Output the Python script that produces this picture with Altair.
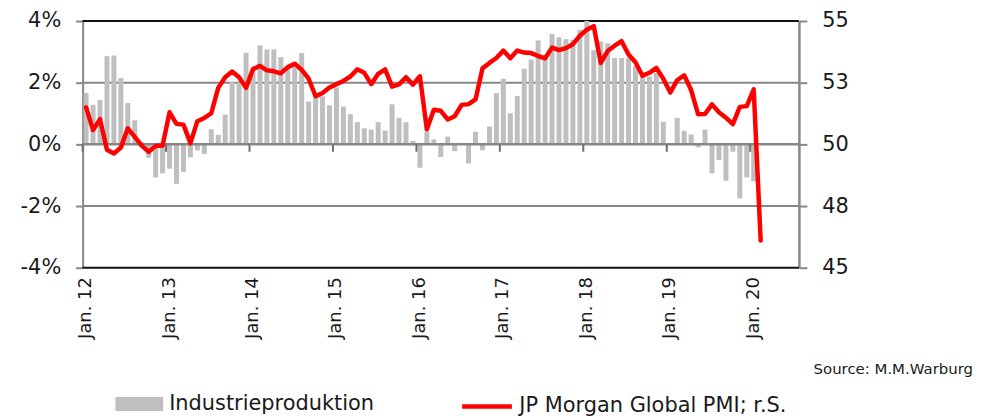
import altair as alt
import pandas as pd

# ---------------- data ----------------
n_months = 103  # Jan 2012 .. Jul 2020 (category axis)
months_all = [f"{2012 + i // 12}-{i % 12 + 1:02d}" for i in range(n_months)]
jan_months = [m for m in months_all if m.endswith("-01") and m <= "2020-01"]

# Industrial production, % y/y (left axis), Jan 2012 .. Jan 2020
ip = [1.66, 1.28, 1.44, 2.86, 2.88, 2.15, 1.34, 0.78, 0.08, -0.43, -1.07, -0.94,
      -0.79, -1.28, -0.89, -0.42, -0.20, -0.31, 0.49, 0.31, 0.96, 2.03, 2.00, 2.97,
      2.40, 3.21, 3.08, 3.08, 2.83, 2.50, 2.60, 2.96, 1.39, 1.60, 1.56, 1.27,
      1.84, 1.23, 0.98, 0.72, 0.52, 0.48, 0.72, 0.45, 1.30, 0.86, 0.72, 0.11,
      -0.76, 0.40, 0.16, -0.41, 0.25, -0.22, 0.05, -0.62, 0.41, -0.19, 0.58, 1.66,
      2.13, 1.01, 1.57, 2.45, 2.75, 3.37, 2.80, 3.58, 3.47, 3.41, 3.39, 3.71,
      4.00, 3.05, 3.34, 3.28, 2.80, 2.80, 2.80, 2.54, 2.35, 2.20, 2.32, 0.73,
      None, 0.86, 0.44, 0.32, -0.10, 0.48, -0.94, -0.51, -1.18, -0.24, -1.75, -1.07,
      -1.20]

# JP Morgan Global PMI (right axis), Jan 2012 .. Feb 2020
pmi = [51.50, 50.58, 51.02, 49.78, 49.63, 49.87, 50.65, 50.30, 49.95, 49.70, 49.93, 49.95,
       51.30, 50.83, 50.80, 50.05, 50.94, 51.07, 51.26, 52.29, 52.72, 52.95, 52.72, 52.29,
       53.05, 53.18, 53.00, 52.96, 52.88, 53.13, 53.27, 53.02, 52.66, 51.95, 52.08, 52.30,
       52.44, 52.57, 52.75, 53.04, 52.90, 52.44, 52.86, 53.04, 52.34, 52.43, 52.72, 52.42,
       52.76, 50.60, 51.40, 51.36, 51.01, 51.14, 51.60, 51.63, 51.82, 53.08, 53.30, 53.50,
       53.80, 53.49, 53.80, 53.72, 53.70, 53.58, 53.49, 53.92, 53.82, 53.90, 54.06, 54.40,
       54.65, 54.79, 53.30, 53.78, 54.00, 54.18, 53.64, 53.33, 52.78, 52.90, 53.10, 52.66,
       52.10, 52.60, 52.80, 52.20, 51.22, 51.23, 51.62, 51.30, 51.08, 50.82, 51.52, 51.55,
       52.23, 46.10]

ip_name = "Industrieproduktion"
pmi_name = "JP Morgan Global PMI; r.S."
source_text = "Source: M.M.Warburg"

left_ticks = [-4, -2, 0, 2, 4]
right_ticks = [45, 47.5, 50, 52.5, 55]
right_tick_labels = ["45", "48", "50", "53", "55"]
grid_gray = [2, -2]
border_black = [4, -4]
zero_line = [0]

df_ip = pd.DataFrame({"month": months_all[:len(ip)], "ip": ip, "series": ip_name})
df_pmi = pd.DataFrame({"month": months_all[:len(pmi)], "pmi": pmi, "series": pmi_name})

# ---------------- styling ----------------
FONT = "DejaVu Sans"
TXT = "#1a1a1a"
GRAY = "#878787"

x_scale = alt.Scale(domain=months_all, paddingInner=0.28, paddingOuter=0.14)
y_left = alt.Scale(domain=[-4, 4], nice=False)
y_right = alt.Scale(domain=[45, 55], nice=False, zero=False)

x_axis = alt.Axis(values=jan_months, labelExpr="'Jan. ' + substring(datum.value, 2, 4)",
                  labelAngle=270, labelFontSize=18, labelPadding=9, ticks=False,
                  domain=False, grid=False, title=None, labelFont=FONT, labelColor=TXT)

left_axis = alt.Axis(values=left_ticks, labelExpr="datum.value + '%'", orient="left",
                     labelFontSize=21, labelPadding=15, tickSize=7, tickWidth=2,
                     tickColor=GRAY, domainColor=GRAY, domainWidth=2, grid=False,
                     title=None, labelFont=FONT, labelColor=TXT)

right_expr = " : ".join(f"datum.value == {v} ? '{l}'" for v, l in zip(right_ticks, right_tick_labels)) + " : ''"
right_axis = alt.Axis(values=right_ticks, labelExpr=right_expr, orient="right",
                      labelFontSize=21, labelPadding=15, tickSize=8, tickWidth=2,
                      tickColor=GRAY, domainColor=GRAY, domainWidth=2.5, grid=False,
                      title=None, labelFont=FONT, labelColor=TXT)

# ---------------- layers ----------------
grid = alt.Chart(pd.DataFrame({"v": grid_gray})).mark_rule(color=GRAY, strokeWidth=2).encode(
    y=alt.Y("v:Q", scale=y_left, axis=left_axis))

border = alt.Chart(pd.DataFrame({"v": border_black})).mark_rule(color="#111111", strokeWidth=2).encode(
    y=alt.Y("v:Q", scale=y_left, axis=left_axis))

bars = alt.Chart(df_ip).mark_bar(strokeWidth=0).encode(
    x=alt.X("month:O", scale=x_scale, axis=x_axis),
    y=alt.Y("ip:Q", scale=y_left, axis=left_axis),
    y2=alt.datum(0),
    fill=alt.Fill("series:N", scale=alt.Scale(domain=[ip_name], range=["#BFBFBF"]),
                  legend=alt.Legend(orient="none", legendX=33, legendY=361, title=None,
                                    symbolType="M-1,-0.29L1,-0.29L1,0.29L-1,0.29Z",
                                    symbolSize=2304, symbolStrokeWidth=0, labelOffset=6,
                                    labelFontSize=21, labelFont=FONT, labelColor=TXT,
                                    labelLimit=0, padding=0)))

zero = alt.Chart(pd.DataFrame({"v": zero_line})).mark_rule(color=GRAY, strokeWidth=2.5).encode(
    y=alt.Y("v:Q", scale=y_left, axis=left_axis))

year_ticks = alt.Chart(pd.DataFrame({"month": jan_months})).mark_rule(
    color="#6e6e6e", strokeWidth=2, xOffset=-1).encode(
    x=alt.X("month:O", scale=x_scale, axis=x_axis, bandPosition=0),
    y=alt.datum(0),
    y2=alt.datum(-0.24))

source = alt.Chart(pd.DataFrame({"t": [source_text]})).mark_text(
    align="right", baseline="middle", fontSize=15, font=FONT, color=TXT).encode(
    text="t:N", x=alt.value(895), y=alt.value(350))

left_group = alt.layer(grid, border, bars, zero, year_ticks, source)

line = alt.Chart(df_pmi).mark_line(strokeWidth=4.5, strokeJoin="round", strokeCap="round").encode(
    x=alt.X("month:O", scale=x_scale, axis=x_axis),
    y=alt.Y("pmi:Q", scale=y_right, axis=right_axis),
    stroke=alt.Stroke("series:N", scale=alt.Scale(domain=[pmi_name], range=["#FF0000"]),
                      legend=alt.Legend(orient="none", legendX=379, legendY=360, title=None,
                                        symbolType="stroke", symbolSize=2500,
                                        symbolStrokeWidth=4.5, labelOffset=5,
                                        labelFontSize=21, labelFont=FONT, labelColor=TXT,
                                        labelLimit=0, padding=0)))

chart = alt.layer(left_group, line).resolve_scale(y="independent").properties(
    width=720, height=248, autosize=alt.AutoSizeParams(type="none"),
    padding={"left": 75, "top": 12, "right": 178, "bottom": 150}
).configure_view(stroke=None)

chart.save("out.html", embed_options={"renderer": "svg", "actions": False})
